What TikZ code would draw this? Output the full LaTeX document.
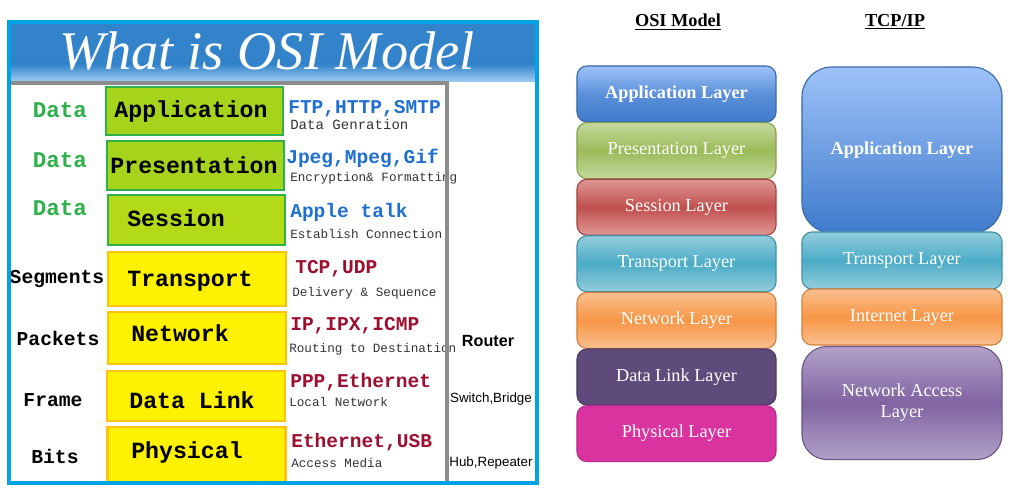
\documentclass[tikz,border=0pt]{standalone}
\usepackage{fontspec}
\setmainfont{Liberation Serif}
\setsansfont{Liberation Sans}
\setmonofont{Liberation Mono}
\usetikzlibrary{positioning}

\definecolor{frameblue}{HTML}{00A3E6}
\definecolor{titleblue}{HTML}{3383CB}
\definecolor{titlelight}{HTML}{A2CDF0}
\definecolor{boxgreen}{HTML}{A6D31B}
\definecolor{linegreen}{HTML}{2EB04B}
\definecolor{boxyellow}{HTML}{FFF200}
\definecolor{lineyellow}{HTML}{FFC20E}
\definecolor{protoblue}{HTML}{1F6FD1}
\definecolor{protored}{HTML}{9C0F2E}
\definecolor{appLight}{HTML}{9EC2F9}
\definecolor{appDark}{HTML}{3F7BCB}
\definecolor{presLight}{HTML}{C4DA9E}
\definecolor{presDark}{HTML}{9BBB59}
\definecolor{sessLight}{HTML}{DD9896}
\definecolor{sessDark}{HTML}{C0504D}
\definecolor{transLight}{HTML}{93CDDD}
\definecolor{transDark}{HTML}{4BACC6}
\definecolor{netLight}{HTML}{FAC090}
\definecolor{netDark}{HTML}{F79646}
\definecolor{dlFill}{HTML}{5F4B7B}
\definecolor{phyFill}{HTML}{D933A0}
\definecolor{naLight}{HTML}{B2A1C7}
\definecolor{naDark}{HTML}{8064A2}

\begin{document}
\begin{tikzpicture}[x=0.025cm,y=-0.025cm,
  greenbox/.style={draw=linegreen,fill=boxgreen,line width=2pt,minimum width=4.425cm,inner sep=0pt},
  yellowbox/.style={draw=lineyellow,fill=boxyellow,line width=2pt,minimum width=4.45cm,inner sep=0pt},
  layername/.style={font=\ttfamily\bfseries\fontsize{16.5}{18}\selectfont},
  unit/.style={font=\ttfamily\bfseries\fontsize{14}{16}\selectfont},
  proto/.style={anchor=west,font=\ttfamily\bfseries\fontsize{13.9}{15}\selectfont,inner sep=0pt},
  task/.style={anchor=west,text=black!80,font=\ttfamily\fontsize{9}{10}\selectfont,inner sep=0pt},
  device/.style={font=\sffamily\fontsize{9.5}{11}\selectfont},
  osi/.style={rounded corners=0.25cm,minimum width=4.975cm,minimum height=1.4cm,inner sep=0pt,
    text=white,font=\fontsize{13}{15}\selectfont,line width=0.8pt},
  shade3/.style n args={2}{draw=#2!85!black,top color=#1,bottom color=#1,middle color=#2},
  header/.style={font=\bfseries\fontsize{13}{15}\selectfont}]
  \useasboundingbox (0,0) rectangle (1012,492);

  % left panel: title band and frame
  \fill[titleblue] (9,22) rectangle (537,64);
  \shade[top color=titleblue,bottom color=titlelight] (9,64) rectangle (537,82);
  \node[text=white,font=\itshape\fontsize{38.7}{40}\selectfont] (title) at (267,51) {What is OSI Model};

  % OSI layers
  \node[greenbox,minimum height=1.2cm] (app) at (194.5,111) {};
  \node[greenbox,minimum height=1.225cm] (pres) at (195.5,165.5) {};
  \node[greenbox,minimum height=1.25cm,fill=boxgreen!85!yellow] (sess) at (196.5,220) {};
  \node[yellowbox,minimum height=1.35cm] (trans) at (197,279) {};
  \node[yellowbox,minimum height=1.3cm] (netw) at (197,338) {};
  \node[yellowbox,minimum height=1.25cm] (dlink) at (196,396) {};
  \node[yellowbox,minimum height=1.375cm] (phys) at (196.5,454.5) {};
  \node[layername] (appT) at (191,112) {Application};
  \node[layername] (presT) at (194,165) {Presentation};
  \node[layername] (sessT) at (176,218) {Session};
  \node[layername] (transT) at (190,281) {Transport};
  \node[layername] (netwT) at (180,333) {Network};
  \node[layername] (dlinkT) at (192,400) {Data Link};
  \node[layername] (physT) at (187,452) {Physical};

  % data units
  \node[unit,text=linegreen,font=\ttfamily\bfseries\fontsize{16}{18}\selectfont] (d1) at (60,110) {Data};
  \node[unit,text=linegreen,font=\ttfamily\bfseries\fontsize{16}{18}\selectfont] (d2) at (60,160) {Data};
  \node[unit,text=linegreen,font=\ttfamily\bfseries\fontsize{16}{18}\selectfont] (d3) at (60,208) {Data};
  \node[unit] (seg) at (57,279) {Segments};
  \node[unit] (pkt) at (58,338) {Packets};
  \node[unit] (frm) at (53,400) {Frame};
  \node[unit] (bits) at (55,456) {Bits};

  % protocols and tasks
  \node[proto,text=protoblue] (p1) at (288,109) {FTP,HTTP,SMTP};
  \node[task,font=\ttfamily\fontsize{10}{11}\selectfont] (t1) at (290,124) {Data Genration};
  \node[proto,text=protoblue] (p2) at (286,158) {Jpeg,Mpeg,Gif};
  \node[task] (t2) at (290,178) {Encryption\& Formatting};
  \node[proto,text=protoblue] (p3) at (290,212) {Apple talk};
  \node[task] (t3) at (290,234) {Establish Connection};
  \node[proto,text=protored] (p4) at (295,269) {TCP,UDP};
  \node[task] (t4) at (292,293) {Delivery \& Sequence};
  \node[proto,text=protored] (p5) at (290,326) {IP,IPX,ICMP};
  \node[task] (t5) at (289,349) {Routing to Destination};
  \node[proto,text=protored] (p6) at (290,382) {PPP,Ethernet};
  \node[task] (t6) at (289,402) {Local Network};
  \node[proto,text=protored] (p7) at (291,442) {Ethernet,USB};
  \node[task] (t7) at (291,463) {Access Media};

  % devices
  \node[device,font=\sffamily\bfseries\fontsize{11.5}{13}\selectfont] (rtr) at (488,341) {Router};
  \node[device] (sw) at (491,399) {Switch,Bridge};
  \node[device] (hub) at (491,463) {Hub,Repeater};

  \draw[line width=2.2pt,black!45] (11,83) -- (447,83) -- (447,484);
  \draw[line width=2.2pt,frameblue] (9,22) rectangle (537,483);

  % right panel
  \node[header] (osiH) at (678,22) {\underline{OSI Model}};
  \node[header] (tcpH) at (895,22) {\underline{TCP/IP}};

  \node[osi,shade3={appLight}{appDark},top color=appLight,bottom color=appDark,middle color=appDark!70!appLight,font=\bfseries\fontsize{13}{15}\selectfont] (osiApp) at (676.5,94) {Application Layer};
  \node[osi,shade3={presLight}{presDark}] (osiPres) at (676.5,150.6) {Presentation Layer};
  \node[osi,shade3={sessLight}{sessDark}] (osiSess) at (676.5,207.2) {Session Layer};
  \node[osi,shade3={transLight}{transDark}] (osiTrans) at (676.5,263.8) {Transport Layer};
  \node[osi,shade3={netLight}{netDark}] (osiNet) at (676.5,320.4) {Network Layer};
  \node[osi,fill=dlFill,draw=dlFill!80!black] (osiDL) at (676.5,377) {Data Link Layer};
  \node[osi,fill=phyFill,draw=phyFill!85!black] (osiPhys) at (676.5,433.6) {Physical Layer};

  \node[osi,minimum width=5cm,minimum height=4.15cm,rounded corners=0.75cm,draw=appDark!85!black,
    top color=appLight,bottom color=appDark,font=\bfseries\fontsize{13}{15}\selectfont] (tcpApp) at (902,150) {Application Layer};
  \node[osi,minimum width=5cm,minimum height=1.425cm,shade3={transLight}{transDark}] (tcpTrans) at (902,260.5) {Transport Layer};
  \node[osi,minimum width=5cm,shade3={netLight}{netDark}] (tcpInt) at (902,317) {Internet Layer};
  \node[osi,minimum width=5cm,minimum height=2.825cm,rounded corners=0.625cm,align=center,
    shade3={naLight}{naDark}] (tcpNA) at (902,403) {Network Access\\Layer};
\end{tikzpicture}
\end{document}
